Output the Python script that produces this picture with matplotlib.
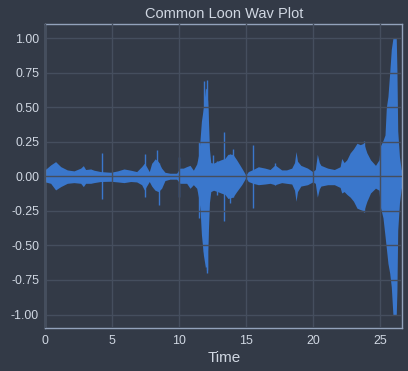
import matplotlib
matplotlib.use('Agg')
from matplotlib import pyplot as plt
from matplotlib.ticker import FormatStrFormatter

plt.rcParams['font.family'] = ['Liberation Sans', 'DejaVu Sans']

# envelope of the waveform (seconds, upper / lower amplitude)
env_t = [0.0, 0.4, 0.77, 1.15, 1.64, 2.14, 2.64, 2.84, 3.01, 3.39, 3.63, 4.13,
         4.88, 5.4, 5.87, 6.37, 6.82, 7.19, 7.39, 7.56, 7.76, 7.94, 8.07, 8.19,
         8.43, 8.68, 8.93, 9.3, 9.8, 10.05, 10.3, 10.55, 10.8, 11.05, 11.3,
         11.45, 11.55, 11.65, 11.8, 11.95, 12.05, 12.15, 12.25, 12.35, 12.55,
         12.85, 13.1, 13.4, 13.63, 14.0, 14.28, 14.66, 14.96, 15.15, 15.5,
         15.9, 16.4, 16.77, 17.14, 17.64, 18.0, 18.39, 18.6, 18.71, 18.82,
         19.07, 19.57, 19.95, 20.15, 20.3, 20.45, 20.57, 21.07, 21.57, 22.0,
         22.12, 22.3, 22.5, 22.75, 23.0, 23.26, 23.5, 23.76, 24.0, 24.27,
         24.64, 24.9, 25.0, 25.2, 25.35, 25.45, 25.57, 25.7, 25.82, 25.94,
         26.19, 26.24, 26.3, 26.43, 26.56, 26.64]
env_up = [0.05, 0.083, 0.107, 0.071, 0.047, 0.04, 0.06, 0.078, 0.05, 0.054,
          0.045, 0.035, 0.03, 0.04, 0.054, 0.045, 0.035, 0.071, 0.095, 0.07,
          0.035, 0.095, 0.11, 0.127, 0.108, 0.06, 0.03, 0.023, 0.023, 0.06,
          0.06, 0.071, 0.08, 0.045, 0.09, 0.16, 0.27, 0.40, 0.50, 0.64, 0.63,
          0.48, 0.20, 0.10, 0.096, 0.11, 0.12, 0.13, 0.16, 0.16, 0.12, 0.06,
          0.01, 0.035, 0.05, 0.07, 0.06, 0.05, 0.083, 0.047, 0.047, 0.06,
          0.10, 0.18, 0.11, 0.08, 0.06, 0.035, 0.05, 0.16, 0.10, 0.08, 0.06,
          0.05, 0.07, 0.13, 0.10, 0.12, 0.17, 0.20, 0.24, 0.23, 0.24, 0.17,
          0.12, 0.08, 0.12, 0.22, 0.26, 0.30, 0.50, 0.58, 0.75, 0.92, 1.0,
          1.0, 0.77, 0.33, 0.14, 0.05, 0.04]
env_lo = [-0.04, -0.05, -0.098, -0.074, -0.05, -0.045, -0.05, -0.074, -0.05,
          -0.05, -0.045, -0.037, -0.035, -0.04, -0.045, -0.037, -0.04, -0.06,
          -0.098, -0.07, -0.037, -0.07, -0.086, -0.10, -0.11, -0.086, -0.03,
          -0.02, -0.02, -0.05, -0.05, -0.05, -0.086, -0.06, -0.086, -0.16,
          -0.24, -0.42, -0.57, -0.66, -0.65, -0.45, -0.19, -0.11, -0.10,
          -0.11, -0.12, -0.13, -0.16, -0.15, -0.11, -0.06, -0.01, -0.037,
          -0.05, -0.06, -0.055, -0.05, -0.06, -0.045, -0.05, -0.055, -0.10,
          -0.18, -0.11, -0.07, -0.06, -0.04, -0.05, -0.15, -0.09, -0.07,
          -0.06, -0.06, -0.08, -0.12, -0.11, -0.13, -0.15, -0.18, -0.23,
          -0.24, -0.25, -0.18, -0.12, -0.085, -0.10, -0.22, -0.30, -0.43,
          -0.52, -0.63, -0.70, -0.80, -1.0, -1.0, -0.83, -0.39, -0.19, -0.09,
          -0.06]

# thin transients sticking out of the envelope
spike_t = [4.25, 7.41, 8.3, 8.5, 9.95, 11.5, 11.87, 12.04, 12.1, 12.55, 12.85,
           13.36, 13.75, 14.0, 15.5, 17.14, 23.76]
spike_up = [0.168, 0.16, 0.19, 0.10, 0.14, 0.25, 0.69, 0.70, 0.55, 0.156, 0.11,
            0.325, 0.16, 0.20, 0.23, 0.095, 0.26]
spike_lo = [-0.163, -0.15, -0.10, -0.21, -0.15, -0.30, -0.55, -0.70, -0.68,
            -0.10, -0.135, -0.32, -0.19, -0.15, -0.23, -0.06, -0.26]

bg = '#333a47'
fg = '#d0d7e2'
blue = '#3a77cc'

fig, ax = plt.subplots(figsize=(4.08, 3.71), dpi=100)
fig.patch.set_facecolor(bg)
ax.set_facecolor(bg)

ax.fill_between(env_t, env_lo, env_up, color=blue, linewidth=0)
ax.vlines(spike_t, spike_lo, spike_up, color=blue, linewidth=1.0)

ax.set_xlim(0, 26.64)
ax.set_ylim(-1.1, 1.1)
ax.set_xticks([0, 5, 10, 15, 20, 25])
ax.set_yticks([-1.0, -0.75, -0.5, -0.25, 0.0, 0.25, 0.5, 0.75, 1.0])
ax.yaxis.set_major_formatter(FormatStrFormatter('%.2f'))

# grid sits on top of the waveform like in the original
ax.set_axisbelow(False)
ax.grid(True, color='#454e5e', linewidth=1.0)
for s in ax.spines.values():
    s.set_color('#93a2bb')
    s.set_linewidth(1.0)
ax.tick_params(length=0, pad=4.5, labelsize=8.9, colors=fg)

ax.set_title('Common Loon Wav Plot', color=fg, fontsize=10.5, pad=5)
ax.set_xlabel('Time', color=fg, fontsize=11, labelpad=3)

fig.subplots_adjust(left=0.111, right=0.986, top=0.934, bottom=0.115)
fig.savefig('out.png', dpi=100, facecolor=bg)
